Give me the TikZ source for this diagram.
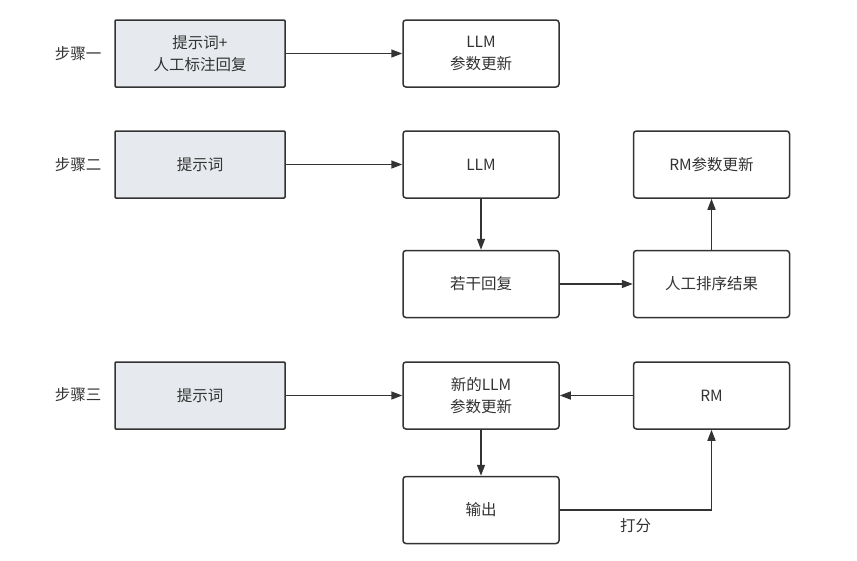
\documentclass[tikz,border=0pt]{standalone}
\usepackage{fontspec}
\setmainfont{Noto Sans CJK SC}
\usetikzlibrary{arrows.meta,positioning}
\definecolor{edge}{HTML}{333333}
\definecolor{grayfill}{HTML}{E6E9ED}
\definecolor{txt}{HTML}{333333}
\tikzset{
  box/.style={draw=edge,line width=1.5pt,rounded corners=3pt,fill=white,
    align=center,text=txt,font=\fontsize{15.5}{22}\selectfont,
    minimum width=156pt,minimum height=67pt,inner sep=0pt},
  prompt/.style={box,fill=grayfill,rounded corners=1pt,minimum width=170pt},
  steplabel/.style={text=txt,font=\fontsize{15.5}{18}\selectfont,inner sep=0pt},
  arrow/.style={-{Triangle[length=11pt,width=8pt]},line width=1.5pt,draw=edge},
  note/.style={text=txt,font=\fontsize{15.5}{18}\selectfont,inner sep=0pt}
}
\begin{document}
\begin{tikzpicture}[x=1pt,y=-1pt]
  \useasboundingbox (0,0) rectangle (857,560);

  % step one
  \node[steplabel] (s1) at (78,54) {步骤一};
  \node[prompt] (p1) at (200,53.5) {提示词+\\人工标注回复};
  \node[box] (llm1) at (481,53.5) {LLM\\参数更新};
  \draw[arrow] (p1) -- (llm1);

  % step two
  \node[steplabel] (s2) at (78,165) {步骤二};
  \node[prompt] (p2) at (200,164.5) {提示词};
  \node[box] (llm2) at (481,164.5) {LLM};
  \node[box,below=51pt of llm2] (replies) {若干回复};
  \node[box,right=73pt of replies] (rank) {人工排序结果};
  \node[box,above=51pt of rank] (rmupd) {RM参数更新};
  \draw[arrow] (p2) -- (llm2);
  \draw[arrow] (llm2) -- (replies);
  \draw[arrow] (replies) -- (rank);
  \draw[arrow] (rank) -- (rmupd);

  % step three
  \node[steplabel] (s3) at (78,395) {步骤三};
  \node[prompt] (p3) at (200,395.5) {提示词};
  \node[box] (llm3) at (481,395.5) {新的LLM\\参数更新};
  \node[box,below=46pt of llm3] (out) {输出};
  \node[box,right=73pt of llm3] (rm) {RM};
  \draw[arrow] (p3) -- (llm3);
  \draw[arrow] (rm) -- (llm3);
  \draw[arrow] (llm3) -- (out);
  \draw[arrow] (out.east) -| node[note,pos=0.25,below=8pt] {打分} (rm.south);
\end{tikzpicture}
\end{document}
